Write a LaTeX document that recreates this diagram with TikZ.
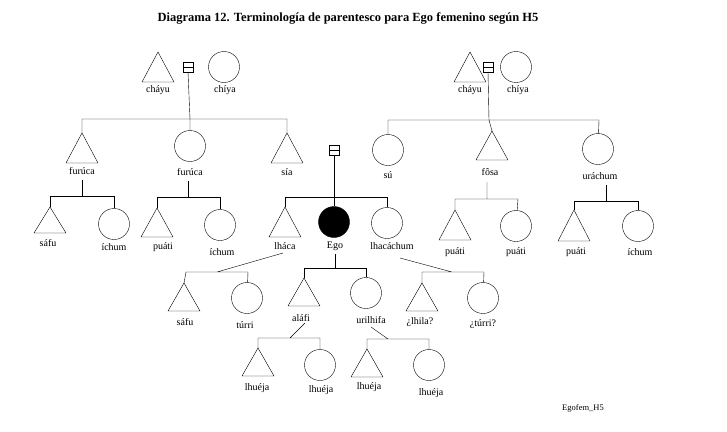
\documentclass[tikz,border=0pt]{standalone}
\usepackage{fontspec}
\setmainfont{Liberation Serif}
\begin{document}
\begin{tikzpicture}[x=1pt,y=-1pt,line width=0.4pt,
 lbl/.style={font=\fontsize{10}{11}\selectfont,inner sep=0pt},
 ci/.style={draw,circle,minimum size=31pt,inner sep=0pt},
 ego/.style={ci,fill=black}]
\useasboundingbox (0,0) rectangle (727,431);
\node[font=\bfseries\fontsize{12.5}{14}\selectfont] (title) at (348,18) {Diagrama 12. Terminología de parentesco para Ego femenino según H5};
\newcommand\tri[4]{% name, x, apex y, base y
 \coordinate (#1) at (#2,#3);
 \draw (#2,#3) -- (#2-16,#4) -- (#2+16,#4) -- cycle;}
\newcommand\eqs[3]{% name, x, y
 \coordinate (#1) at (#2,#3+5);
 \draw (#2-5,#3-5) rectangle (#2+5,#3+5) (#2-5,#3) -- (#2+5,#3);}
% top left
\tri{cha1}{158}{52}{82}\eqs{e1}{188}{67}\node[ci] (chi1) at (224,67) {};
\node[lbl] at (158,90) {cháyu};\node[lbl] at (225,90) {chíya};
\tri{fu1}{82}{133}{163}\node[ci] (fu2) at (190,146) {};\tri{sia}{287}{133}{163}
\node[lbl] at (82,171) {furúca};\node[lbl] at (190,172) {furúca};\node[lbl] at (287,172) {sía};
\coordinate (h1) at (190,119);
\draw (e1) -- (h1) (82,119) -- (287,119) (82,119) -- (fu1) (287,119) -- (sia) (h1) -- (fu2);
% furuca children
\tri{sf1}{50}{207}{233}\node[ci] (ic1) at (114,224) {};
\node[lbl] at (48,243) {sáfu};\node[lbl] at (114,247) {íchum};
\draw (82,180) -- (82,196) (50,196) -- (114,196) (50,196) -- (sf1) (114,196) -- (ic1);
\tri{pu1}{157}{208}{237}\node[ci] (ic2) at (220,225) {};
\node[lbl] at (163,247) {puáti};\node[lbl] at (222,252) {íchum};
\draw (188,181) -- (188,197) (157,197) -- (220,197) (157,197) -- (pu1) (220,197) -- (ic2);
% Ego generation
\eqs{e2}{334}{150}
\tri{lha}{285}{207}{237}\node[ego] (ego) at (334,222) {};\node[ci] (lhc) at (387,223) {};
\node[lbl] at (285,246) {lháca};\node[lbl] at (335,246) {Ego};\node[lbl] at (392,246) {lhacáchum};
\draw (e2) -- (ego) (285,197) -- (387,197) (285,197) -- (lha) (387,197) -- (lhc);
% top right
\tri{cha2}{470}{52}{82}\eqs{e3}{488}{67}\node[ci] (chi2) at (516,67) {};
\node[lbl] at (470,90) {cháyu};\node[lbl] at (518,90) {chíya};
\node[ci] (su) at (388,150) {};\tri{fo}{492}{131}{160}\node[ci] (ura) at (598,149) {};
\node[lbl] at (388,175) {sú};\node[lbl] at (490,172) {fôsa};\node[lbl] at (600,176) {uráchum};
\coordinate (h2) at (489,120);
\draw (e3) -- (h2) (388,120) -- (599,120) (388,120) -- (su) (h2) -- (fo) (599,120) -- (ura);
\tri{pu2}{455}{210}{240}\node[ci] (pu3) at (516,226) {};
\node[lbl] at (455,252) {puáti};\node[lbl] at (516,252) {puáti};
\draw (487,182) -- (487,199) (455,199) -- (518,199) (455,199) -- (pu2) (518,199) -- (pu3);
\tri{pu4}{574}{210}{241}\node[ci] (ic3) at (638,226) {};
\node[lbl] at (576,252) {puáti};\node[lbl] at (640,252) {íchum};
\draw (606,185) -- (606,201) (574,201) -- (638,201) (574,201) -- (pu4) (638,201) -- (ic3);
% children of lhaca
\tri{sf2}{184}{283}{311}\node[ci] (tu1) at (247,298) {};
\node[lbl] at (185,322) {sáfu};\node[lbl] at (245,325) {túrri};
\draw (283,253) -- (217,272) (186,272) -- (248,272) (186,272) -- (sf2) (248,272) -- (tu1);
% children of Ego
\tri{al}{304}{278}{306}\node[ci] (ur) at (366,293) {};
\node[lbl] at (301,318) {aláfi};\node[lbl] at (371,320) {urilhifa};
\draw (335,254) -- (335,268) (304,268) -- (366,268) (304,268) -- (al) (366,268) -- (ur);
% children of lhacachum
\tri{lh}{422}{283}{311}\node[ci] (tu2) at (483,298) {};
\node[lbl] at (420,322) {¿lhila?};\node[lbl] at (483,324) {¿túrri?};
\draw (400,258) -- (452,272) (422,272) -- (484,272) (422,272) -- (lh) (484,272) -- (tu2);
% grandchildren
\tri{g1}{258}{348}{376}\node[ci] (g2) at (320,365) {};
\node[lbl] at (257,388) {lhuéja};\node[lbl] at (321,390) {lhuéja};
\draw (305,323) -- (290,338) (258,338) -- (320,338) (258,338) -- (g1) (320,338) -- (g2);
\tri{g3}{367}{349}{377}\node[ci] (g4) at (429,365) {};
\node[lbl] at (369,387) {lhuéja};\node[lbl] at (431,393) {lhuéja};
\draw (371,327) -- (388,339) (367,339) -- (429,339) (367,339) -- (g3) (429,339) -- (g4);
\node[lbl,font=\fontsize{8.5}{9}\selectfont] (src) at (583,408) {Egofem\_H5};
\end{tikzpicture}
\end{document}
